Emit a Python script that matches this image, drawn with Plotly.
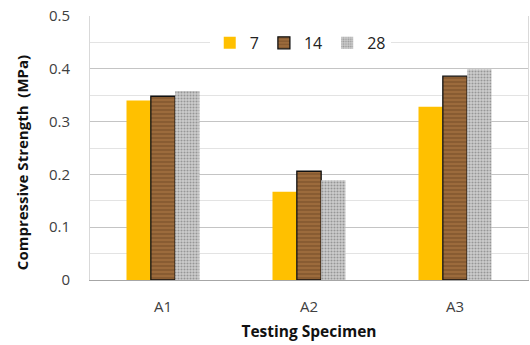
import plotly.graph_objects as go

specimens = ["A1", "A2", "A3"]
ages = ["7", "14", "28"]
strength_7 = [0.340, 0.167, 0.328]
strength_14 = [0.348, 0.206, 0.386]
strength_28 = [0.358, 0.189, 0.399]

font_family = "Open Sans, Noto Sans, sans-serif"

fig = go.Figure()
fig.add_trace(go.Bar(
    x=specimens, y=strength_7, name=ages[0],
    marker=dict(color="#FFC000", line=dict(width=0)),
))
fig.add_trace(go.Bar(
    x=specimens, y=strength_14, name=ages[1],
    marker=dict(
        color="#8E5F34",
        line=dict(color="#111111", width=1.3),
        pattern=dict(shape="-", fgcolor="#5A3718", bgcolor="#9C6B3C",
                     size=4, solidity=0.3, fillmode="overlay"),
    ),
))
fig.add_trace(go.Bar(
    x=specimens, y=strength_28, name=ages[2],
    marker=dict(
        color="#C8C8C8",
        line=dict(width=0),
        pattern=dict(shape=".", fgcolor="#5E5E5E", bgcolor="#CECECE",
                     size=3, solidity=0.4, fillmode="overlay"),
    ),
))

fig.update_layout(
    width=530, height=345,
    margin=dict(l=90, r=2, t=16, b=65),
    paper_bgcolor="white", plot_bgcolor="white",
    barmode="group", bargap=0.5, bargroupgap=0,
    font=dict(family=font_family, size=15, color="#404040"),
    showlegend=True,
    legend=dict(
        orientation="h", x=0.48, xanchor="center", y=0.898, yanchor="middle",
        bgcolor="white", font=dict(size=16, color="#222222"),
        itemwidth=30, tracegroupgap=0, traceorder="normal",
    ),
    xaxis=dict(
        showgrid=False, showline=True, linecolor="#A6A6A6", linewidth=1,
        ticks="", ticklabelstandoff=13,
        tickfont=dict(size=15, color="#404040"),
        title=dict(text="<b>Testing Specimen</b>", standoff=11,
                   font=dict(size=15.5, color="#111111")),
    ),
    yaxis=dict(
        range=[0, 0.5], dtick=0.1, tickformat="~g",
        showgrid=True, gridcolor="#C4C4C4", gridwidth=1,
        minor=dict(dtick=0.05, showgrid=True, gridcolor="#E3E3E3", gridwidth=1),
        showline=True, linecolor="#D9D9D9", mirror=True, zeroline=False,
        ticks="", ticklabelstandoff=16,
        tickfont=dict(size=15, color="#404040"),
    ),
    annotations=[dict(
        text="<b>Compressive Strength  (MPa)</b>", textangle=-90,
        xref="paper", yref="paper", x=-0.155, y=0.443,
        xanchor="center", yanchor="middle", showarrow=False,
        font=dict(size=15, color="#111111"),
    )],
)

fig.write_html("out.html")
